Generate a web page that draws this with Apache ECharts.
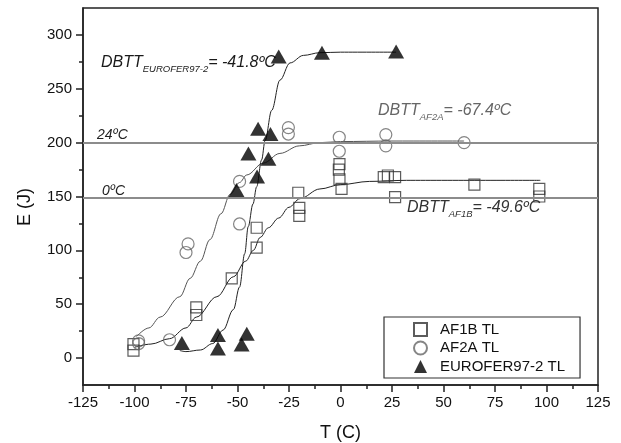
<!DOCTYPE html>
<html>
<head>
<meta charset="utf-8">
<script src="https://cdn.jsdelivr.net/npm/echarts@6/dist/echarts.min.js"></script>
<style>
  html, body { margin: 0; padding: 0; background: #fff; }
  #chart { width: 621px; height: 443px; }
</style>
</head>
<body>
<div id="chart"></div>
<script>
// measured points, T (C) vs E (J)
const af1b = [
    [-100.5, 13], [-100.5, 7], [-70, 47], [-70, 40], [-52.8, 74],
    [-40.7, 121], [-40.7, 102.5], [-20.5, 153.5], [-20, 139.5], [-20, 132],
    [-0.5, 180], [-0.8, 175], [-0.5, 166], [0.5, 157],
    [21, 168], [23, 169.5], [26.5, 168], [26.5, 149.5], [65, 161], [96.5, 157], [96.5, 150]
];
const af2a = [
    [-98, 16], [-98, 13.5], [-83, 17], [-74, 106], [-75, 98], [-49, 124.5],
    [-49, 164], [-25.3, 214], [-25.3, 208], [-0.6, 205], [-0.6, 192],
    [22, 207.5], [22, 197], [60, 200]
];
const eurofer = [
    [-77, 14], [-59.5, 21.5], [-59.5, 9], [-48, 12.5], [-45.5, 22.5],
    [-50.5, 156], [-40.5, 168.5], [-44.7, 190], [-35, 185], [-40, 213], [-34, 208],
    [-30, 280], [-9, 283.5], [27, 284.5]
];

// fitted curves
const af1bFit = [
    [-100, 10], [-92, 13], [-83, 18], [-75, 28], [-70, 38], [-60, 57], [-52, 75.5],
    [-46, 90], [-42.3, 100], [-39, 112], [-35, 121], [-30, 130], [-25, 140],
    [-19.7, 148], [-10, 157], [0, 161], [14, 164], [32, 165], [97, 165]
];
const af2aFit = [
    [-99, 20], [-93, 28], [-87.6, 38], [-78, 57], [-73, 74], [-68, 90], [-63.4, 110],
    [-58, 134], [-53.6, 152], [-49, 163], [-45.5, 170], [-37.5, 181], [-29.4, 190],
    [-20, 197], [-10, 200], [0, 201], [25, 201.5], [60, 201.5]
];
const euroferFit = [
    [-78, 7], [-75, 6], [-68, 7.5], [-62, 13.5], [-57, 26], [-52, 45], [-49, 66],
    [-46.5, 97], [-44.8, 122], [-42.5, 143], [-40.7, 159], [-38.3, 184], [-36.6, 202],
    [-33.4, 230], [-29.4, 258], [-24.5, 274], [-18, 281], [-10, 283.5], [0, 284], [27, 284]
];

const yLabels = [0, 50, 100, 150, 200, 250, 300];
const yMinor = [25, 75, 125, 175, 225, 275];
const refLines = [200, 148.5];
const names = ['AF1B TL', 'AF2A TL', 'EUROFER97-2 TL'];

const font = 'Liberation Sans, Arial, sans-serif';
const chart = echarts.init(document.getElementById('chart'));

const measureCtx = document.createElement('canvas').getContext('2d');
function textWidth(text, size) {
    measureCtx.font = 'italic ' + size + 'px ' + font;
    return measureCtx.measureText(text).width;
}

function fitLine(data, color) {
    return {
        type: 'line',
        data: data,
        smooth: 0.35,
        smoothMonotone: 'x',
        symbol: 'none',
        silent: true,
        z: 2,
        lineStyle: { color: color, width: 1 }
    };
}

// DBTT label with a real subscript, y is the middle of the capitals
function dbtt(x, y, sub, tail, color) {
    const big = 16, small = 9.5;
    const w1 = textWidth('DBTT', big);
    const w2 = textWidth(sub, small);
    const st = (text, size) => ({ text: text, fontSize: size, fontStyle: 'italic', fontFamily: font,
        fill: color, verticalAlign: 'middle' });
    return {
        type: 'group', z: 10,
        children: [
            { type: 'text', x: x, y: y, style: st('DBTT', big) },
            { type: 'text', x: x + w1, y: y + 6.5, style: st(sub, small) },
            { type: 'text', x: x + w1 + w2, y: y, style: st(tail, big) }
        ]
    };
}

const option = {
    backgroundColor: '#fff',
    animation: false,
    textStyle: { fontFamily: font },
    grid: { left: 83, right: 23, top: 8, bottom: 58, containLabel: false, outerBoundsMode: 'none',
        show: true, borderColor: '#222', borderWidth: 1.5, backgroundColor: 'transparent' },
    xAxis: {
        type: 'value',
        min: -125, max: 125, interval: 25,
        name: 'T (C)', nameLocation: 'middle', nameGap: 39,
        nameTextStyle: { fontSize: 18, color: '#111', fontFamily: font },
        axisLine: { show: true, onZero: false, lineStyle: { color: '#222', width: 1.5 } },
        axisTick: { show: true, inside: false, length: 7, lineStyle: { color: '#222', width: 1.5 } },
        minorTick: { show: true, splitNumber: 2, length: 4, lineStyle: { color: '#222', width: 1.5 } },
        axisLabel: { fontSize: 15, color: '#111', margin: 10, fontFamily: font },
        splitLine: { show: false },
        minorSplitLine: { show: false }
    },
    yAxis: [{
        type: 'value',
        position: 'left',
        min: -25, max: 325,
        axisLine: { show: true, onZero: false, lineStyle: { color: '#222', width: 1.5 } },
        axisTick: { show: true, inside: false, length: 7, customValues: yLabels,
            lineStyle: { color: '#222', width: 1.5 } },
        axisLabel: { fontSize: 15, color: '#111', margin: 11, customValues: yLabels, fontFamily: font },
        splitLine: { show: false }
    }, {
        type: 'value',
        position: 'left',
        min: -25, max: 325,
        axisLine: { show: false, onZero: false },
        axisTick: { show: true, inside: false, length: 4, customValues: yMinor,
            lineStyle: { color: '#222', width: 1.5 } },
        axisLabel: { show: false },
        splitLine: { show: false }
    }],
    legend: {
        data: names,
        orient: 'vertical',
        left: 384, top: 317,
        padding: [5, 15, 4, 29],
        itemWidth: 13, itemHeight: 13, itemGap: 3.5,
        borderColor: '#333', borderWidth: 1.2,
        backgroundColor: '#fff',
        textStyle: { fontSize: 15, color: '#111', fontFamily: font, padding: [0, 0, 0, 8] }
    },
    series: [
        fitLine(af1bFit, '#222'),
        fitLine(af2aFit, '#555'),
        fitLine(euroferFit, '#222'),
        {
            type: 'line',
            data: [],
            silent: true,
            markLine: {
                silent: true,
                symbol: 'none',
                label: { show: false },
                lineStyle: { color: '#8c8c8c', width: 2, type: 'solid' },
                data: refLines.map(v => ({ yAxis: v }))
            }
        },
        {
            name: names[0], type: 'scatter', data: af1b, z: 3,
            symbol: 'rect', symbolSize: 11,
            itemStyle: { color: 'rgba(255,255,255,0)', borderColor: '#333', borderWidth: 1.2 }
        },
        {
            name: names[1], type: 'scatter', data: af2a, z: 3,
            symbol: 'circle', symbolSize: 12,
            itemStyle: { color: 'rgba(255,255,255,0)', borderColor: '#666', borderWidth: 1.2 }
        },
        {
            name: names[2], type: 'scatter', data: eurofer, z: 4,
            symbol: 'triangle', symbolSize: [16, 14],
            itemStyle: { color: '#000', borderWidth: 0 }
        }
    ],
    graphic: [
        { type: 'text', x: 25, y: 207, rotation: Math.PI / 2,
          style: { text: 'E (J)', fontSize: 18, fill: '#111', fontFamily: font, align: 'center', verticalAlign: 'middle' } },
        { type: 'text', x: 97, y: 135,
          style: { text: '24ºC', fontSize: 14, fontStyle: 'italic', fill: '#222', fontFamily: font, verticalAlign: 'middle' } },
        { type: 'text', x: 102, y: 191,
          style: { text: '0ºC', fontSize: 14, fontStyle: 'italic', fill: '#222', fontFamily: font, verticalAlign: 'middle' } },
        dbtt(101, 63, 'EUROFER97-2', '= -41.8ºC', '#1a1a1a'),
        dbtt(378, 111, 'AF2A', '= -67.4ºC', '#666'),
        dbtt(407, 208, 'AF1B', '= -49.6ºC', '#333')
    ]
};

chart.setOption(option);
</script>
</body>
</html>
